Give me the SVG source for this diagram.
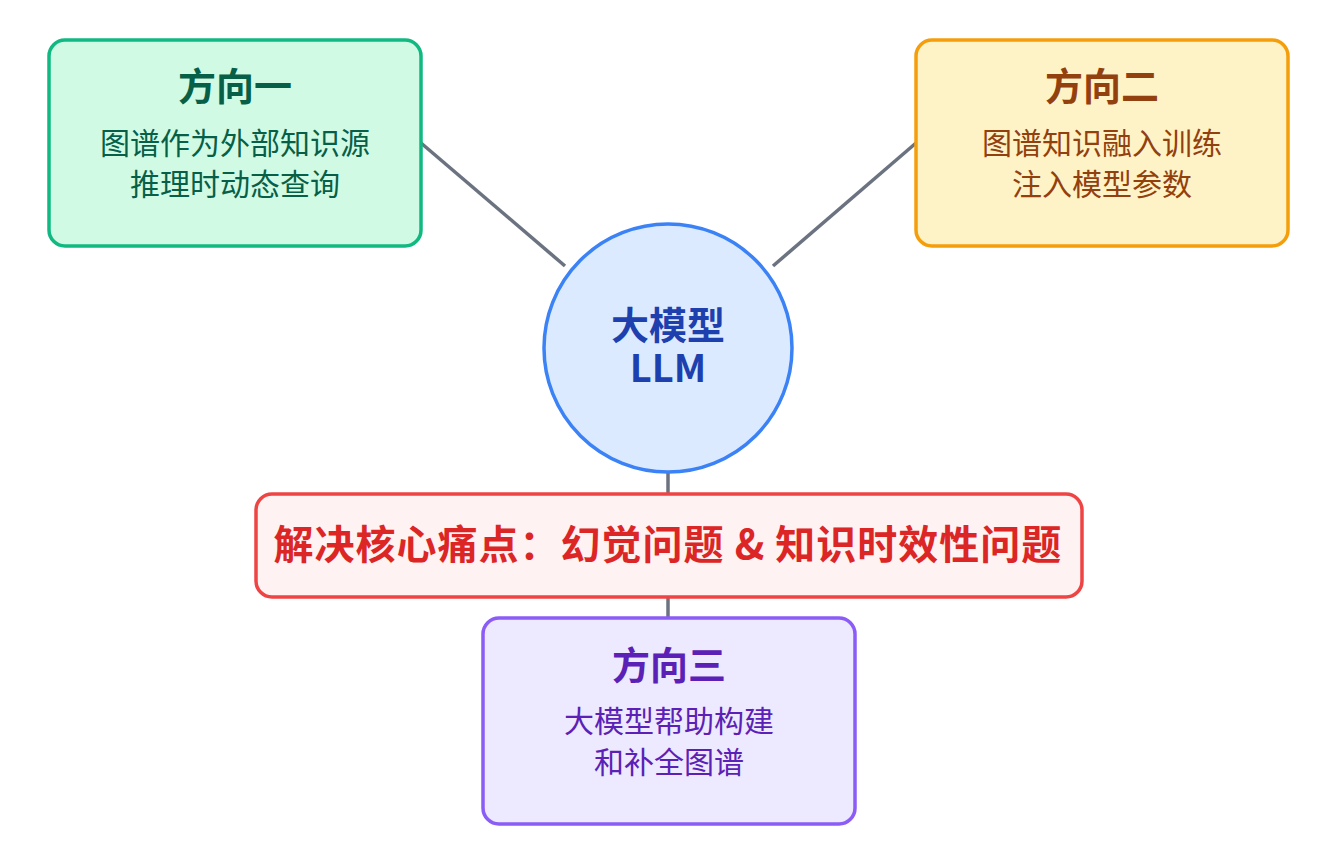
<svg xmlns="http://www.w3.org/2000/svg" width="1328" height="862" viewBox="0 0 1328 862">
<style>
text{font-family:"Noto Sans CJK SC","Noto Sans",sans-serif;text-anchor:middle}
.t{font-size:38px;font-weight:bold}
.s{font-size:30px}
.c line{stroke:#6b7280;stroke-width:3.5}
</style>
<rect width="1328" height="862" fill="#fff"/>
<g class="c" id="connectors">
<line x1="421" y1="143" x2="565" y2="266"/>
<line x1="916" y1="143" x2="773" y2="266"/>
<line x1="668" y1="473" x2="668" y2="493"/>
<line x1="668" y1="597" x2="668" y2="617"/>
</g>
<g id="d1">
<rect x="49" y="40" width="372" height="206" rx="16" fill="#d1fae5" stroke="#10b981" stroke-width="3.5"/>
<text x="235" y="100" class="t" fill="#065f46">方向一</text>
<text x="235" y="154" class="s" fill="#065f46">图谱作为外部知识源</text>
<text x="235" y="195" class="s" fill="#065f46">推理时动态查询</text>
</g>
<g id="d2">
<rect x="916" y="40" width="372" height="206" rx="16" fill="#fef3c7" stroke="#f59e0b" stroke-width="3.5"/>
<text x="1102" y="100" class="t" fill="#92400e">方向二</text>
<text x="1102" y="154" class="s" fill="#92400e">图谱知识融入训练</text>
<text x="1102" y="195" class="s" fill="#92400e">注入模型参数</text>
</g>
<g id="llm">
<circle cx="668" cy="348" r="124" fill="#dbeafe" stroke="#3b82f6" stroke-width="3.5"/>
<text x="668" y="339" class="t" fill="#1e40af">大模型</text>
<text x="668" y="382" class="t" fill="#1e40af">LLM</text>
</g>
<g id="pain">
<rect x="256" y="494" width="826" height="103" rx="16" fill="#fef2f2" stroke="#ef4444" stroke-width="3.5"/>
<text x="668" y="559" class="t" style="font-size:40px;letter-spacing:1px" fill="#dc2626">解决核心痛点：幻觉问题 &amp; 知识时效性问题</text>
</g>
<g id="d3">
<rect x="483" y="618" width="372" height="206" rx="16" fill="#ede9fe" stroke="#8b5cf6" stroke-width="3.5"/>
<text x="669" y="679" class="t" fill="#5b21b6">方向三</text>
<text x="669" y="732" class="s" fill="#5b21b6">大模型帮助构建</text>
<text x="669" y="773" class="s" fill="#5b21b6">和补全图谱</text>
</g>
</svg>
